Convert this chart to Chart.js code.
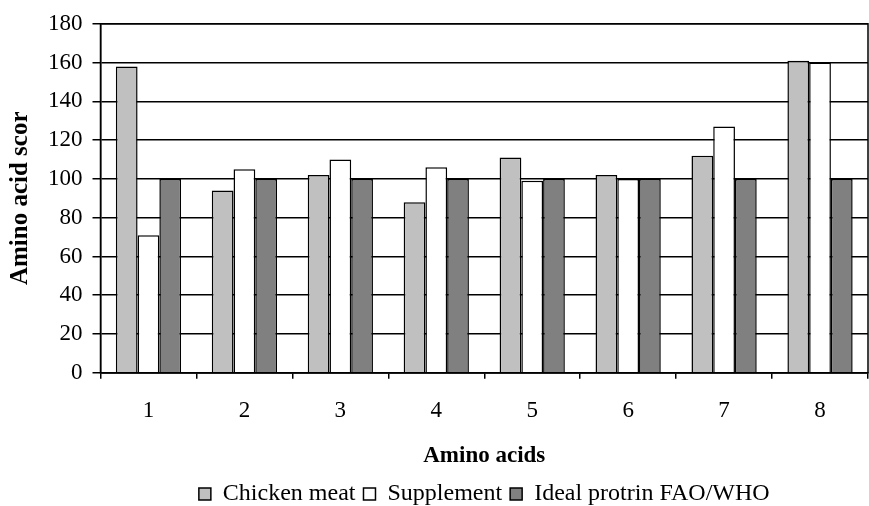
<!DOCTYPE html>
<html>
<head>
<meta charset="utf-8">
<script src="https://cdn.jsdelivr.net/npm/chart.js@4/dist/chart.umd.min.js"></script>
<style>
  html, body { margin: 0; padding: 0; background: #fff; }
  #wrap { width: 869px; height: 506px; }
</style>
</head>
<body>
<div id="wrap"><canvas id="chart"></canvas></div>
<script>
// categories (amino acids numbered 1..8)
const categories = ["1", "2", "3", "4", "5", "6", "7", "8"];
const chickenMeat = [158, 94, 102, 88, 111, 102, 112, 161];
const supplement = [71, 105, 110, 106, 99, 100, 127, 160];
const idealProtein = [100, 100, 100, 100, 100, 100, 100, 100];
const yTicks = [0, 20, 40, 60, 80, 100, 120, 140, 160, 180];

const serif = "'Liberation Serif', 'Times New Roman', serif";

// frame round the plot area (top and right edges like in the original)
const frame = {
    id: "frame",
    afterDraw(chart) {
        const a = chart.chartArea;
        const ctx = chart.ctx;
        ctx.save();
        ctx.strokeStyle = "#000";
        ctx.lineWidth = 1.5;
        ctx.strokeRect(a.left, a.top, a.right - a.left, a.bottom - a.top);
        ctx.restore();
    }
};

new Chart(document.getElementById("chart"), {
    type: "bar",
    data: {
        labels: categories,
        datasets: [
            { label: "Chicken meat", data: chickenMeat, backgroundColor: "#c0c0c0", borderColor: "#000", borderWidth: 1.5 },
            { label: "Supplement", data: supplement, backgroundColor: "#ffffff", borderColor: "#000", borderWidth: 1.5 },
            { label: "Ideal protrin FAO/WHO", data: idealProtein, backgroundColor: "#808080", borderColor: "#000", borderWidth: 1.5 }
        ]
    },
    options: {
        responsive: true,
        maintainAspectRatio: false,
        animation: false,
        layout: { padding: { top: 12, right: 1, left: 4, bottom: -10 } },
        datasets: { bar: { categoryPercentage: 0.68, barPercentage: 1.0 } },
        scales: {
            x: {
                offset: true,
                grid: { offset: true, drawOnChartArea: false, drawTicks: true, tickLength: 6, color: "#000", lineWidth: 1.5 },
                border: { color: "#000", width: 1.5 },
                ticks: { color: "#000", font: { family: serif, size: 23 }, padding: 18 },
                title: { display: true, text: "Amino acids", color: "#000", font: { family: serif, size: 23, weight: "bold" }, padding: { top: 0, bottom: 4 } }
            },
            y: {
                min: 0,
                max: 180,
                afterBuildTicks(axis) { axis.ticks = yTicks.map(v => ({ value: v })); },
                grid: { color: "#000", lineWidth: 1.5, tickLength: 8 },
                border: { color: "#000", width: 1.5 },
                ticks: { color: "#000", font: { family: serif, size: 23 }, padding: 10 },
                title: { display: true, text: "Amino acid scor", color: "#000", font: { family: serif, size: 25, weight: "bold" }, padding: { top: 2, bottom: 2 } }
            }
        },
        plugins: {
            legend: {
                position: "bottom",
                fullSize: false,
                labels: { color: "#000", font: { family: serif, size: 24 }, boxWidth: 12, boxHeight: 12, padding: 8 }
            },
            tooltip: { enabled: false }
        }
    },
    plugins: [frame]
});
</script>
</body>
</html>
